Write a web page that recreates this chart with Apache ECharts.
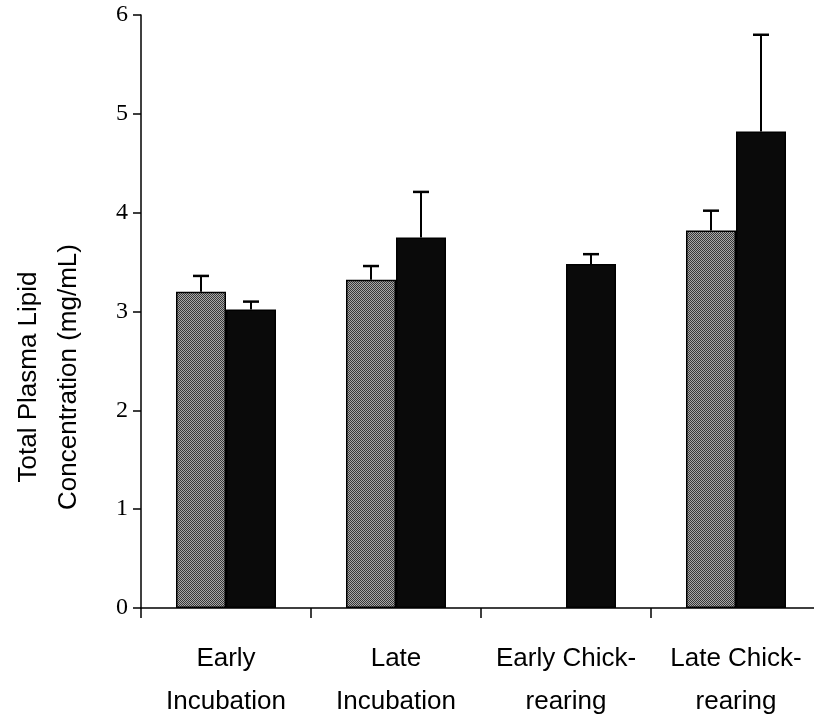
<!DOCTYPE html>
<html>
<head>
<meta charset="utf-8">
<script src="https://cdn.jsdelivr.net/npm/echarts@6/dist/echarts.min.js"></script>
<style>
  html, body { margin: 0; padding: 0; background: #fff; overflow: hidden; }
  /* the plot runs a few pixels past the right edge of the window */
  #chart { width: 821px; height: 723px; }
</style>
</head>
<body>
<div id="chart"></div>
<script>
// Stage categories along the x axis
const categories = ['Early\nIncubation', 'Late\nIncubation', 'Early Chick-\nrearing', 'Late Chick-\nrearing'];
// Mean total plasma lipid (mg/mL) for the two groups; null = no sample
const grayMeans = [3.20, 3.32, null, 3.82];
const blackMeans = [3.02, 3.75, 3.48, 4.82];
// Upper error bar ends (mean + SE)
const grayUpper = [3.36, 3.46, null, 4.02];
const blackUpper = [3.10, 4.21, 3.58, 5.80];
// Y axis ticks
const yTicks = [0, 1, 2, 3, 4, 5, 6];

// Stippled grey fill
function stipple() {
  const c = document.createElement('canvas');
  c.width = 2; c.height = 2;
  const g = c.getContext('2d');
  g.fillStyle = '#a8a8a8'; g.fillRect(0, 0, 2, 2);
  g.fillStyle = '#383838'; g.fillRect(0, 0, 1, 1); g.fillRect(1, 1, 1, 1);
  return c;
}

const BAR_W = 50;
const SANS = "'Liberation Sans', Arial, sans-serif";

function errorSeries(means, uppers, side) {
  const data = means.map((m, i) => m == null ? null : [i, m, uppers[i]]).filter(d => d);
  return {
    type: 'custom',
    z: 5,
    data: data,
    renderItem: function (params, api) {
      const p0 = api.coord([api.value(0), api.value(1)]);
      const p1 = api.coord([api.value(0), api.value(2)]);
      const x = p0[0] + side * BAR_W / 2;
      const half = 8;
      return {
        type: 'group',
        children: [
          { type: 'line', shape: { x1: x, y1: p0[1], x2: x, y2: p1[1] }, style: { stroke: '#000', lineWidth: 2 } },
          { type: 'line', shape: { x1: x - half, y1: p1[1], x2: x + half, y2: p1[1] }, style: { stroke: '#000', lineWidth: 2.5 } }
        ]
      };
    }
  };
}

const chart = echarts.init(document.getElementById('chart'), null, { renderer: 'canvas' });

chart.setOption({
  animation: false,
  backgroundColor: '#fff',
  grid: { left: 141, top: 15, bottom: 111, right: 0 },
  xAxis: {
    type: 'category',
    data: categories,
    axisLine: { lineStyle: { color: '#000', width: 1.5 } },
    axisTick: { show: true, length: 10, lineStyle: { color: '#000', width: 1.5 } },
    axisLabel: {
      interval: 0,
      color: '#000',
      fontFamily: SANS,
      fontSize: 26,
      lineHeight: 43,
      margin: 29
    },
    splitLine: { show: false }
  },
  yAxis: {
    type: 'value',
    min: yTicks[0],
    max: yTicks[yTicks.length - 1],
    interval: 1,
    axisLine: { show: true, lineStyle: { color: '#000', width: 1.5 } },
    axisTick: { show: true, length: 8, lineStyle: { color: '#000', width: 1.5 } },
    axisLabel: {
      color: '#000',
      fontFamily: "'Liberation Serif', 'Times New Roman', serif",
      fontSize: 24,
      margin: 13
    },
    splitLine: { show: false }
  },
  graphic: [{
    type: 'text',
    x: 49,
    y: 377,
    rotation: Math.PI / 2,
    style: {
      text: 'Total Plasma Lipid\nConcentration (mg/mL)',
      fill: '#000',
      font: "26px " + SANS,
      lineHeight: 40,
      align: 'center',
      verticalAlign: 'middle'
    }
  }],
  series: [
    {
      type: 'bar',
      data: grayMeans,
      barWidth: BAR_W,
      barGap: '0%',
      itemStyle: { color: { image: stipple(), repeat: 'repeat' }, borderColor: '#000', borderWidth: 1.5 }
    },
    {
      type: 'bar',
      data: blackMeans,
      barWidth: BAR_W,
      barGap: '0%',
      itemStyle: { color: '#0a0a0a', borderColor: '#000', borderWidth: 1.5 }
    },
    errorSeries(grayMeans, grayUpper, -1),
    errorSeries(blackMeans, blackUpper, 1)
  ]
});
</script>
</body>
</html>
